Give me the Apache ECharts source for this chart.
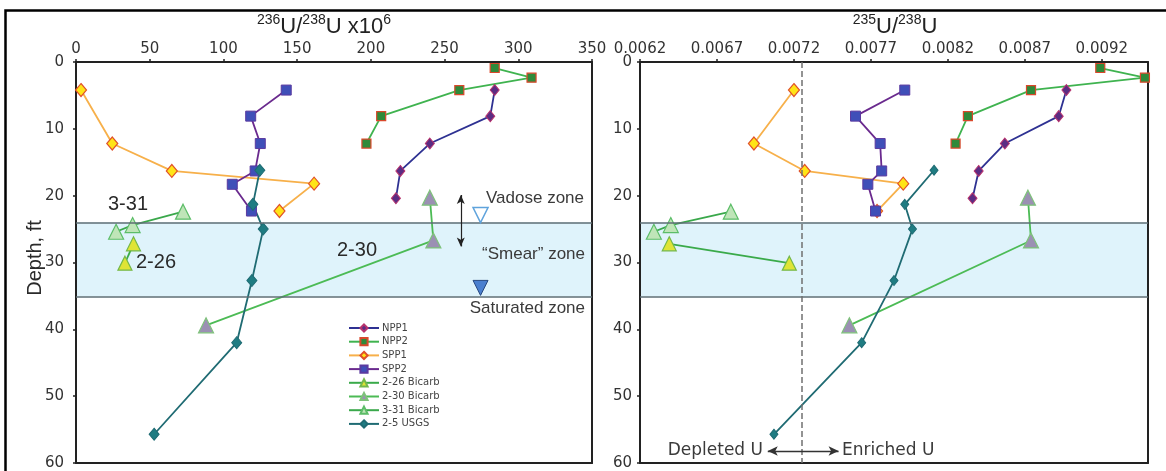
<!DOCTYPE html>
<html><head><meta charset="utf-8">
<script src="https://cdn.jsdelivr.net/npm/echarts@6/dist/echarts.min.js"></script>
<style>html,body{margin:0;padding:0;background:#fff}#c{width:1166px;height:471px}</style>
</head><body><div id="c"></div>
<script>
// ---------- data ----------
const seriesNames = ['NPP1','NPP2','SPP1','SPP2','2-26 Bicarb','2-30 Bicarb','3-31 Bicarb','2-5 USGS'];
const depthTicks = [0,10,20,30,40,50,60];

const depthNPP1 = [4.2, 8.1, 12.2, 16.3, 20.4];
const u236NPP1  = [284, 281, 240, 220, 217];
const u235NPP1  = [0.00897, 0.00892, 0.00857, 0.00840, 0.00836];

const depthNPP2 = [0.9, 2.35, 4.2, 8.1, 12.2];
const u236NPP2  = [284, 309, 260, 207, 197];
const u235NPP2  = [0.00919, 0.00948, 0.00874, 0.00833, 0.00825];

const depthSPP1 = [4.2, 12.2, 16.3, 18.2, 22.3];
const u236SPP1  = [3.4, 24.6, 65, 161.5, 138];
const u235SPP1  = [0.00720, 0.00694, 0.00727, 0.00791, 0.00774];

const depthSPP2 = [4.2, 8.1, 12.2, 16.3, 18.3, 22.3];
const u236SPP2  = [142.6, 118.5, 125, 121.5, 106, 119];
const u235SPP2  = [0.00792, 0.00760, 0.00776, 0.00777, 0.00768, 0.00773];

const depth226 = [27.2, 30.1];
const u236_226 = [39, 33.2];
const u235_226 = [0.00639, 0.00717];

const depth230 = [20.3, 26.7, 39.4];
const u236_230 = [240, 242.4, 88.2];
const u235_230 = [0.00872, 0.00874, 0.00756];

const depth331 = [22.4, 24.4, 25.4];
const u236_331 = [72.6, 38.4, 27.2];
const u235_331 = [0.00679, 0.00640, 0.00629];

const depthUSGS = [16.2, 21.3, 25.0, 32.7, 42.0, 55.7];
const u236USGS  = [124.7, 120, 127, 119.3, 109, 53];
const u235USGS  = [0.00811, 0.00792, 0.00797, 0.00785, 0.00764, 0.00707];

// zones and reference markers
const smearTop = 24.0, smearBottom = 35.1;
const naturalRatio = 0.00725;
const vadoseArrow = [[261, 19.9], [261, 27.6]];
const waterOpen = [274.4, 22.9];
const waterFilled = [274.4, 33.8];
const depletedArrow = [[0.00703, 58.2], [0.00749, 58.2]];

// ---------- styles ----------
const styles = {
  'NPP1': {line:'#2e3192', sym:'diamond', size:[9,11], fill:'#5b2c83', border:'#b8326c', bw:1},
  'NPP2': {line:'#3fb34f', sym:'rect', size:9, fill:'#2f8a3a', border:'#d9482b', bw:1.2},
  'SPP1': {line:'#f7b04a', sym:'diamond', size:[11,13], fill:'#ffe417', border:'#e0502a', bw:1.2},
  'SPP2': {line:'#6a2a8e', sym:'rect', size:10, fill:'#3f4fb8', border:'#5b3aa0', bw:1},
  '2-26 Bicarb': {line:'#3aaa4a', sym:'triangle', size:14, fill:'#dfe436', border:'#74b84a', bw:1.2},
  '2-30 Bicarb': {line:'#4cbb55', sym:'triangle', size:15, fill:'#9b90b3', border:'#7ec27a', bw:1.2},
  '3-31 Bicarb': {line:'#3aa84b', sym:'triangle', size:15, fill:'#bfe5b8', border:'#5cbd68', bw:1.2},
  '2-5 USGS': {line:'#1f6b73', sym:'diamond', size:[10,12], fill:'#1f7c82', border:'#1f6b73', bw:1}
};

function mk(name, xs, ys, xi, yi, sizeOverride) {
  const s = styles[name];
  return {
    name, type:'line', xAxisIndex:xi, yAxisIndex:yi, z:3,
    data: ys.map((d,i)=>[xs[i], d]),
    symbol: s.sym, symbolSize: sizeOverride || s.size,
    lineStyle:{color:s.line, width:1.8},
    itemStyle:{color:s.fill, borderColor:s.border, borderWidth:s.bw},
    emphasis:{disabled:true}, silent:true
  };
}

const leftSeries = [
  mk('NPP1', u236NPP1, depthNPP1, 0, 0),
  mk('NPP2', u236NPP2, depthNPP2, 0, 0),
  mk('SPP1', u236SPP1, depthSPP1, 0, 0),
  mk('SPP2', u236SPP2, depthSPP2, 0, 0),
  mk('2-26 Bicarb', u236_226, depth226, 0, 0),
  mk('2-30 Bicarb', u236_230, depth230, 0, 0),
  mk('3-31 Bicarb', u236_331, depth331, 0, 0),
  mk('2-5 USGS', u236USGS, depthUSGS, 0, 0)
];
const rightSeries = [
  mk('NPP1', u235NPP1, depthNPP1, 2, 2),
  mk('NPP2', u235NPP2, depthNPP2, 2, 2),
  mk('SPP1', u235SPP1, depthSPP1, 2, 2),
  mk('SPP2', u235SPP2, depthSPP2, 2, 2),
  mk('2-26 Bicarb', u235_226, depth226, 2, 2),
  mk('2-30 Bicarb', u235_230, depth230, 2, 2),
  mk('3-31 Bicarb', u235_331, depth331, 2, 2),
  mk('2-5 USGS', u235USGS, depthUSGS, 2, 2, [8,10])
];

function zoneSeries(xi, yi) {
  return {
    type:'line', xAxisIndex:xi, yAxisIndex:yi, data:[], z:1, silent:true,
    markArea:{silent:true, itemStyle:{color:'#dff3fb'}, data:[[{yAxis:smearTop},{yAxis:smearBottom}]]},
    markLine:{silent:true, symbol:'none', label:{show:false}, animation:false,
      lineStyle:{color:'#5e6e74', width:1.5, type:'solid'},
      data:[{yAxis:smearTop},{yAxis:smearBottom}]}
  };
}

const dashedSeries = {
  type:'line', xAxisIndex:2, yAxisIndex:2, data:[], z:2, silent:true,
  markLine:{silent:true, symbol:'none', label:{show:false},
    lineStyle:{color:'#707070', width:1.5, type:'dashed'},
    data:[[{coord:[naturalRatio, 0]}, {coord:[naturalRatio, 60]}]]}
};

const annotationSeries = [
  { type:'line', xAxisIndex:0, yAxisIndex:0, data:[], z:4, silent:true,
    markLine:{silent:true, symbol:['arrow','arrow'], symbolSize:[6,9], label:{show:false},
      lineStyle:{color:'#222', width:1.2, type:'solid'},
      data:[[{coord:vadoseArrow[0]},{coord:vadoseArrow[1]}]]},
    markPoint:{silent:true, label:{show:false}, data:[
      {coord:waterOpen, symbol:'triangle', symbolRotate:180, symbolSize:[15,15],
        itemStyle:{color:'#ffffff', borderColor:'#5fa3dc', borderWidth:1.5}},
      {coord:waterFilled, symbol:'triangle', symbolRotate:180, symbolSize:[15,15],
        itemStyle:{color:'#4a7fcf', borderColor:'#27477f', borderWidth:1}}
    ]}
  },
  { type:'line', xAxisIndex:2, yAxisIndex:2, data:[], z:4, silent:true,
    markLine:{silent:true, symbol:['arrow','arrow'], symbolSize:[7,10], label:{show:false},
      lineStyle:{color:'#333', width:1.3, type:'solid'},
      data:[[{coord:depletedArrow[0]},{coord:depletedArrow[1]}]]}
  }
];

const labelFont = {fontFamily:'DejaVu Sans', fontSize:15, color:'#333'};
const axisLineStyle = {show:true, onZero:false, lineStyle:{color:'#222', width:2}};

function topX(gi, min, max, interval, fmt) {
  return {type:'value', gridIndex:gi, position:'top', min, max, interval, z:2,
    axisLine:axisLineStyle, axisTick:{show:true, inside:false, length:3, lineStyle:{color:'#222', width:1.5}},
    axisLabel:Object.assign({margin:5, showMaxLabel: fmt ? false : true, formatter: fmt || (v=>String(v))}, labelFont),
    splitLine:{show:false}};
}
function frameX(gi, min, max) {
  return {type:'value', gridIndex:gi, position:'bottom', min, max, z:2,
    axisLine:axisLineStyle, axisTick:{show:false}, axisLabel:{show:false}, splitLine:{show:false}};
}
function leftY(gi, margin) {
  return {type:'value', gridIndex:gi, position:'left', inverse:true, min:0, max:60, interval:10, z:2,
    axisLine:axisLineStyle, axisTick:{show:true, length:3, lineStyle:{color:'#222', width:1.5}},
    axisLabel:Object.assign({margin}, labelFont), splitLine:{show:false}};
}
function frameY(gi) {
  return {type:'value', gridIndex:gi, position:'right', inverse:true, min:0, max:60, z:2,
    axisLine:axisLineStyle, axisTick:{show:false}, axisLabel:{show:false}, splitLine:{show:false}};
}

const supStyle = {fontFamily:'Liberation Sans', fontSize:14, lineHeight:14, verticalAlign:'top', fill:'#222'};
const mainStyle = {fontFamily:'Liberation Sans', fontSize:22, lineHeight:28, fill:'#222'};

function txt(text, x, y, size, align, family, color) {
  return {type:'text', x, y, z:50, silent:true, style:{text, fontFamily: family || 'Liberation Sans', fontSize:size,
    fill: color || '#2a2a2a', align: align || 'center', verticalAlign:'middle'}};
}

const option = {
  animation:false,
  backgroundColor:'#ffffff',
  grid:[
    {left:76, right:574, top:62, bottom:8},
    {left:640, right:18, top:62, bottom:8}
  ],
  xAxis:[
    topX(0, 0, 350, 50),
    frameX(0, 0, 350),
    topX(1, 0.0062, 0.0095, 0.0005, v=>v.toFixed(4)),
    frameX(1, 0.0062, 0.0095)
  ],
  yAxis:[ leftY(0, 12), frameY(0), leftY(1, 8), frameY(1) ],
  legend:{
    data: seriesNames, orient:'vertical', left:343, top:318, selectedMode:false,
    itemWidth:30, itemHeight:9, itemGap:3.7,
    textStyle:{fontFamily:'DejaVu Sans', fontSize:10, lineHeight:10, color:'#444', padding:[0,0,0,-2]}
  },
  series: [
    zoneSeries(0, 0),
    zoneSeries(2, 2),
    dashedSeries
  ].concat(leftSeries, rightSeries, annotationSeries),
  graphic:[
    {type:'rect', z:60, silent:true, shape:{x:5.5, y:10.5, width:1175, height:480},
      style:{fill:'none', stroke:'#000', lineWidth:2.5}},
    {type:'text', x:324, y:27, z:50, silent:true, style:{
      text:'{s|236}{m|U/}{s|238}{m|U x10}{s|6}', align:'center', verticalAlign:'middle',
      rich:{s:supStyle, m:mainStyle}}},
    {type:'text', x:895, y:27, z:50, silent:true, style:{
      text:'{s|235}{m|U/}{s|238}{m|U}', align:'center', verticalAlign:'middle',
      rich:{s:supStyle, m:mainStyle}}},
    {type:'text', x:35, y:258, rotation:Math.PI/2, z:50, silent:true, style:{
      text:'Depth, ft', fontFamily:'Liberation Sans', fontSize:20, fill:'#2a2a2a', align:'center', verticalAlign:'middle'}},
    txt('3-31', 128, 204, 20),
    txt('2-26', 136, 262, 20, 'left'),
    txt('2-30', 357, 250, 20),
    txt('Vadose zone', 584, 198, 17, 'right', null, '#3a3a3a'),
    txt('\u201CSmear\u201D zone', 585, 254, 17, 'right', null, '#3a3a3a'),
    txt('Saturated zone', 585, 308, 17, 'right', null, '#3a3a3a'),
    txt('Depleted U', 763, 451, 17, 'right', 'DejaVu Sans', '#3a3a3a'),
    txt('Enriched U', 842, 451, 17, 'left', 'DejaVu Sans', '#3a3a3a')
  ]
};

const chart = echarts.init(document.getElementById('c'), null, {renderer:'canvas'});
chart.setOption(option);
</script>
</body></html>
